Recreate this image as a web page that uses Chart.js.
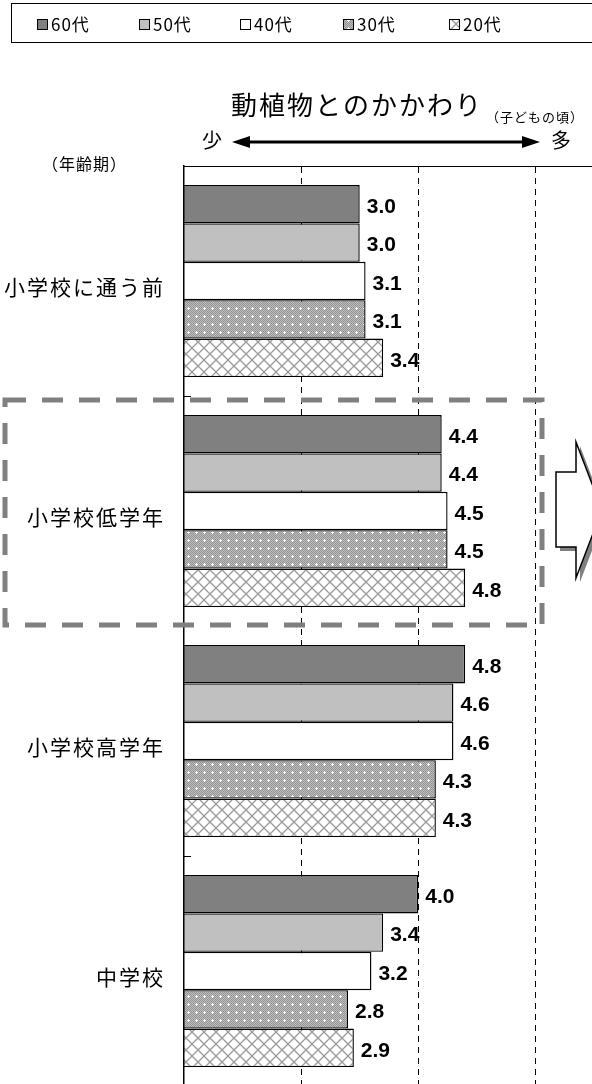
<!DOCTYPE html>
<html><head><meta charset="utf-8">
<script src="https://cdn.jsdelivr.net/npm/chart.js@4.4.1/dist/chart.umd.min.js"></script>
<style>html,body{margin:0;padding:0;overflow:hidden;background:#fff;width:592px;height:1084px}canvas{display:block}</style>
</head><body>
<canvas id="c" width="600" height="1090"></canvas>
<script>
// ---- data ----
const categories = ['小学校に通う前', '小学校低学年', '小学校高学年', '中学校'];
const seriesNames = ['60代', '50代', '40代', '30代', '20代'];
const values60 = [3.0, 4.4, 4.8, 4.0];
const values50 = [3.0, 4.4, 4.6, 3.4];
const values40 = [3.1, 4.5, 4.6, 3.2];
const values30 = [3.1, 4.5, 4.3, 2.8];
const values20 = [3.4, 4.8, 4.3, 2.9];
const xGridTicks = [2, 4, 6];
const titleMain = '動植物とのかかわり';
const titleSub = '（子どもの頃）';
const axisLow = '少';
const axisHigh = '多';
const groupAxisTitle = '（年齢期）';

// ---- fills ----
function dotPattern() {
  const c = document.createElement('canvas'); c.width = 8; c.height = 8;
  const g = c.getContext('2d');
  for (let y = 0; y < 8; y++) for (let x = 0; x < 8; x++) {
    g.fillStyle = ((x + y) % 2) ? '#bdbdbd' : '#959595';
    g.fillRect(x, y, 1, 1);
  }
  g.fillStyle = '#ffffff';
  g.fillRect(3, 4, 3, 1); g.fillRect(4, 3, 1, 3);
  return g.createPattern(c, 'repeat');
}
function hatchPattern() {
  const s = 12;
  const c = document.createElement('canvas'); c.width = s; c.height = s;
  const g = c.getContext('2d');
  g.fillStyle = '#ffffff'; g.fillRect(0, 0, s, s);
  g.strokeStyle = '#9a9a9a'; g.lineWidth = 1.3;
  g.beginPath();
  g.moveTo(-1, -1); g.lineTo(s + 1, s + 1);
  g.moveTo(s + 1, -1); g.lineTo(-1, s + 1);
  g.stroke();
  return g.createPattern(c, 'repeat');
}
const fills = ['#808080', '#c0c0c0', '#ffffff', dotPattern(), hatchPattern()];
const seriesValues = [values60, values50, values40, values30, values20];

const JP = '"Noto Sans CJK JP", "Noto Sans", sans-serif';

const spacingPlugin = {
  id: 'spacing',
  beforeDraw(chart) { chart.ctx.letterSpacing = '2px'; },
  beforeDatasetsDraw(chart) { chart.ctx.letterSpacing = '0px'; }
};

const valueLabels = {
  id: 'valueLabels',
  afterDatasetsDraw(chart) {
    const ctx = chart.ctx;
    ctx.save();
    ctx.letterSpacing = '0px';
    ctx.font = 'bold 21px "Liberation Sans", Arial, sans-serif';
    ctx.fillStyle = '#000';
    ctx.textAlign = 'left';
    ctx.textBaseline = 'middle';
    chart.data.datasets.forEach((ds, i) => {
      chart.getDatasetMeta(i).data.forEach((el, j) => {
        ctx.fillText(ds.data[j].toFixed(1), el.x + 7, el.y + 3);
      });
    });
    // inner tick marks at category boundaries
    const area = chart.chartArea;
    const step = (area.bottom - area.top) / categories.length;
    ctx.strokeStyle = '#000'; ctx.lineWidth = 1;
    for (let k = 1; k < categories.length; k++) {
      const py = Math.round(area.top + k * step) + 0.5;
      ctx.beginPath(); ctx.moveTo(area.left, py); ctx.lineTo(area.left + 7, py); ctx.stroke();
    }
    ctx.restore();
  }
};

const decor = {
  id: 'decor',
  afterDraw(chart) {
    const ctx = chart.ctx;
    ctx.save();
    ctx.letterSpacing = '0px';
    // legend
    ctx.strokeStyle = '#000'; ctx.lineWidth = 1;
    ctx.strokeRect(11.5, 3.5, 620, 39);
    const lx = [37, 139, 240, 343, 449];
    ctx.font = '17px ' + JP;
    ctx.textBaseline = 'middle'; ctx.textAlign = 'left';
    seriesNames.forEach((n, i) => {
      ctx.fillStyle = fills[i];
      ctx.fillRect(lx[i], 19, 10, 10);
      ctx.strokeStyle = '#000'; ctx.lineWidth = 1;
      ctx.strokeRect(lx[i] + 0.5, 19.5, 10, 10);
      ctx.fillStyle = '#000';
      ctx.letterSpacing = '1px';
      ctx.fillText(n, lx[i] + 14, 25);
      ctx.letterSpacing = '0px';
    });
    // title
    ctx.fillStyle = '#000';
    ctx.font = '26px ' + JP;
    ctx.letterSpacing = '2px';
    ctx.fillText(titleMain, 231, 105);
    ctx.font = '13px ' + JP;
    ctx.letterSpacing = '1px';
    ctx.fillText(titleSub, 486, 117);
    ctx.letterSpacing = '0px';
    // arrow
    ctx.font = '20px ' + JP;
    ctx.fillText(axisLow, 202, 140);
    ctx.fillText(axisHigh, 551, 140);
    ctx.lineWidth = 3;
    ctx.beginPath(); ctx.moveTo(245, 142); ctx.lineTo(527, 142); ctx.stroke();
    ctx.beginPath(); ctx.moveTo(232, 142); ctx.lineTo(250, 136); ctx.lineTo(250, 148); ctx.closePath(); ctx.fill();
    ctx.beginPath(); ctx.moveTo(540, 142); ctx.lineTo(522, 136); ctx.lineTo(522, 148); ctx.closePath(); ctx.fill();
    // group axis title
    ctx.font = '16px ' + JP;
    ctx.letterSpacing = '1px';
    ctx.fillText(groupAxisTitle, 42, 164);
    ctx.letterSpacing = '0px';
    // dashed highlight box
    ctx.strokeStyle = '#808080'; ctx.lineWidth = 5;
    ctx.setLineDash([21, 16]);
    ctx.strokeRect(5, 400, 537, 225);
    ctx.setLineDash([]);
    // block arrow
    const pts = [[556, 472], [576, 472], [576, 442], [602, 510], [576, 578], [576, 547], [556, 547]];
    const poly = (dx, dy) => { ctx.beginPath(); pts.forEach((p, k) => k ? ctx.lineTo(p[0] + dx, p[1] + dy) : ctx.moveTo(p[0] + dx, p[1] + dy)); ctx.closePath(); };
    ctx.fillStyle = '#808080'; poly(4, 4); ctx.fill();
    ctx.fillStyle = '#fff'; poly(0, 0); ctx.fill();
    ctx.strokeStyle = '#000'; ctx.lineWidth = 1.5; poly(0, 0); ctx.stroke();
    ctx.restore();
  }
};

new Chart(document.getElementById('c'), {
  type: 'bar',
  data: {
    labels: categories,
    datasets: seriesNames.map((n, i) => ({
      label: n, data: seriesValues[i], backgroundColor: fills[i],
      borderColor: '#000', borderWidth: 1.4,
      categoryPercentage: 0.835, barPercentage: 1
    }))
  },
  options: {
    indexAxis: 'y', responsive: false, animation: false,
    layout: { padding: { top: 166, right: 6, bottom: 4, left: 0 } },
    plugins: { legend: { display: false }, title: { display: false }, tooltip: { enabled: false } },
    scales: {
      x: {
        type: 'linear', position: 'top', min: 0, max: 7,
        afterBuildTicks: s => { s.ticks = xGridTicks.map(v => ({ value: v })); },
        ticks: { display: false },
        grid: { color: '#000', lineWidth: 1, drawTicks: false },
        border: { display: true, color: '#000', width: 1, dash: [6, 5] }
      },
      y: {
        grid: { display: false, drawTicks: false },
        border: { display: true, color: '#000', width: 1.5, z: 1 },
        ticks: { color: '#000', font: { family: JP, size: 21 }, padding: 19, labelOffset: 6 },
        afterFit: s => { s.width = 184; s.paddingTop = 0; s.paddingBottom = 0; }
      }
    }
  },
  plugins: [spacingPlugin, valueLabels, decor]
});
</script>
</body></html>
